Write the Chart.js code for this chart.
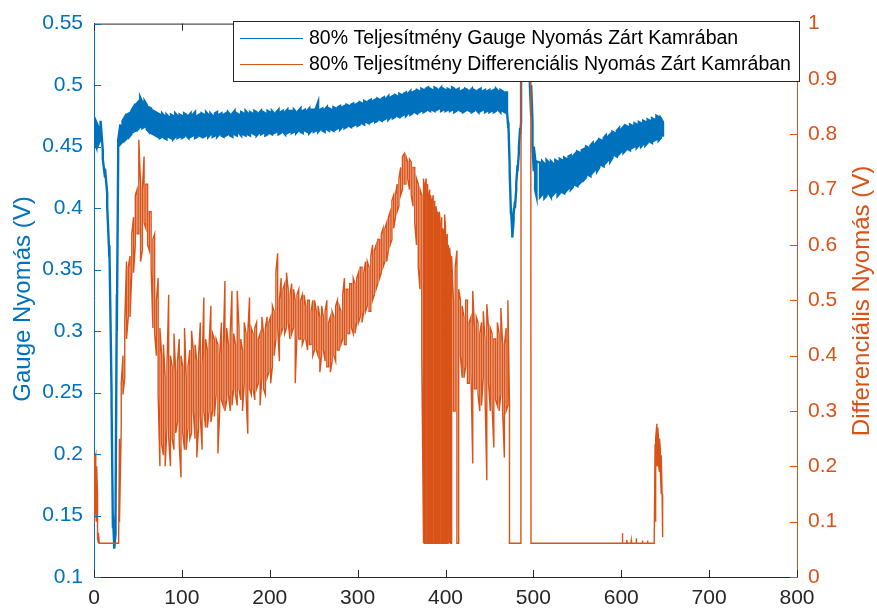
<!DOCTYPE html>
<html>
<head>
<meta charset="utf-8">
<script src="https://cdn.jsdelivr.net/npm/chart.js@4.4.1/dist/chart.umd.min.js"></script>
<style>
  html, body { margin: 0; padding: 0; background: #fff; }
  canvas { display: block; }
</style>
</head>
<body>
<canvas id="pressureChart" width="877" height="610"></canvas>
<script>
// Gauge pressure (left axis): time bins in s, band top / bottom
const gaugeTime = [
  0, 2.5, 5, 7.5, 10, 12.5, 15, 17.5, 20, 21.5,
  23, 24.5, 26, 27.5, 30, 32.5, 35, 37.5, 40, 42.5, 45, 47.5,
  50, 52.5, 55, 57.5, 60, 62.5, 65, 67.5, 70, 72.5,
  75, 77.5, 80, 82.5, 85, 87.5, 90, 92.5, 95, 97.5,
  100, 102.5, 105, 107.5, 110, 112.5, 115, 117.5, 120, 122.5,
  125, 127.5, 130, 132.5, 135, 137.5, 140, 142.5, 145, 147.5,
  150, 152.5, 155, 157.5, 160, 162.5, 165, 167.5, 170, 172.5,
  175, 177.5, 180, 182.5, 185, 187.5, 190, 192.5, 195, 197.5,
  200, 202.5, 205, 207.5, 210, 212.5, 215, 217.5, 220, 222.5,
  225, 227.5, 230, 232.5, 235, 237.5, 240, 242.5, 245, 247.5,
  250, 252.5, 255, 257.5, 260, 262.5, 265, 267.5, 270, 272.5,
  275, 277.5, 280, 282.5, 285, 287.5, 290, 292.5, 295, 297.5,
  300, 302.5, 305, 307.5, 310, 312.5, 315, 317.5, 320, 322.5,
  325, 327.5, 330, 332.5, 335, 337.5, 340, 342.5, 345, 347.5,
  350, 352.5, 355, 357.5, 360, 362.5, 365, 367.5, 370, 372.5,
  375, 377.5, 380, 382.5, 385, 387.5, 390, 392.5, 395, 397.5,
  400, 402.5, 405, 407.5, 410, 412.5, 415, 417.5, 420, 422.5,
  425, 427.5, 430, 432.5, 435, 437.5, 440, 442.5, 445, 447.5,
  450, 452.5, 455, 457.5, 460, 462.5, 465, 467.5,
  470, 471.5, 473, 474.5, 476, 477.5, 479, 480.5, 482, 483.5,
  485, 486, 488, 490, 492, 494, 496, 497.5, 499, 500.5, 502, 503.5,
  507.5, 510, 512.5, 515, 517.5, 520, 522.5, 525, 527.5, 530,
  532.5, 535, 537.5, 540, 542.5, 545, 547.5, 550, 552.5, 555,
  557.5, 560, 562.5, 565, 567.5, 570, 572.5, 575, 577.5, 580,
  582.5, 585, 587.5, 590, 592.5, 595, 597.5, 600, 602.5, 605,
  607.5, 610, 612.5, 615, 617.5, 620, 622.5, 625, 627.5, 630,
  632.5, 635, 637.5, 640, 642.5, 645, 647.5
];
const gaugeHigh = [
  .472, .470, .466, .471, .447, .432, .412, .370, .250, .150,
  .126, .150, .330, .455, .468, .471, .474, .476, .477, .479, .482, .484,
  .486, .490, .486, .487, .484, .482, .481, .479, .478, .477,
  .476, .477, .475, .476, .474, .476, .475, .477, .475, .476,
  .475, .477, .476, .475, .477, .476, .478, .475, .476, .477,
  .476, .478, .476, .477, .475, .477, .478, .476, .477, .476,
  .477, .478, .476, .477, .479, .477, .476, .478, .477, .479,
  .477, .478, .477, .479, .478, .477, .479, .478, .477, .479,
  .478, .479, .477, .478, .480, .478, .479, .478, .480, .479,
  .479, .480, .478, .479, .481, .479, .480, .479, .481, .480,
  .480, .481, .486, .480, .481, .480, .482, .481, .480, .482,
  .481, .482, .483, .482, .483, .484, .483, .484, .485, .484,
  .485, .486, .485, .487, .486, .487, .488, .487, .488, .489,
  .488, .489, .490, .489, .491, .490, .491, .492, .491, .493,
  .492, .493, .494, .493, .495, .494, .495, .496, .495, .497,
  .496, .497, .498, .497, .496, .498, .497, .496, .498, .497,
  .496, .497, .496, .498, .497, .496, .497, .495, .496, .497,
  .496, .495, .497, .496, .495, .496, .497, .495, .496, .495,
  .496, .495, .496, .497, .495, .496, .495, .494,
  .494, .470, .435, .400, .380, .395, .405, .420, .435, .450,
  .465, .560, .560, .560, .560, .560, .560, .500, .470, .450, .440, .438,
  .437, .438, .436, .439, .437, .438, .436, .439, .438, .440,
  .439, .441, .440, .442, .443, .442, .444, .446, .445, .447,
  .448, .450, .449, .451, .453, .452, .454, .456, .455, .457,
  .459, .458, .460, .462, .461, .463, .465, .464, .466, .467,
  .466, .468, .467, .469, .468, .470, .469, .471, .470, .472,
  .471, .473, .472, .475, .474, .473, .470
];
const gaugeLow = [
  .455, .450, .452, .456, .440, .425, .402, .360, .240, .140,
  .123, .135, .300, .440, .452, .454, .455, .457, .458, .460, .462, .463,
  .464, .466, .465, .466, .464, .462, .461, .460, .459, .458,
  .457, .458, .457, .456, .458, .457, .456, .458, .457, .458,
  .457, .458, .459, .457, .458, .459, .457, .458, .459, .458,
  .458, .459, .458, .460, .458, .459, .458, .460, .459, .458,
  .459, .460, .459, .458, .460, .459, .461, .459, .460, .459,
  .460, .459, .461, .460, .459, .461, .460, .461, .459, .460,
  .461, .460, .461, .462, .460, .461, .462, .460, .461, .462,
  .461, .462, .461, .463, .462, .461, .463, .462, .461, .463,
  .462, .463, .462, .464, .463, .462, .464, .463, .464, .463,
  .464, .465, .464, .466, .465, .466, .467, .466, .467, .468,
  .467, .468, .469, .468, .470, .469, .470, .471, .470, .471,
  .472, .471, .472, .473, .472, .474, .473, .474, .475, .474,
  .475, .476, .475, .477, .476, .477, .478, .477, .478, .479,
  .478, .479, .480, .479, .480, .479, .480, .481, .479, .480,
  .479, .480, .479, .480, .478, .479, .480, .479, .478, .479,
  .480, .479, .478, .479, .480, .478, .479, .480, .478, .479,
  .478, .479, .478, .479, .480, .478, .479, .478,
  .478, .465, .430, .395, .376, .390, .400, .415, .430, .445,
  .460, .470, .560, .560, .560, .560, .500, .475, .450, .430, .415, .410,
  .409, .411, .408, .410, .412, .409, .411, .413, .410, .412,
  .413, .412, .414, .416, .415, .417, .419, .418, .420, .422,
  .423, .425, .427, .426, .429, .431, .430, .433, .435, .434,
  .437, .439, .438, .441, .443, .442, .444, .446, .445, .447,
  .448, .447, .449, .450, .449, .451, .450, .452, .451, .453,
  .454, .453, .455, .456, .455, .457, .458
];

// Differential pressure (right axis): time bins in s, band top / bottom
const diffTime = [
  0, 1, 2, 3, 4, 5, 6, 28,
  29, 31, 33, 35, 37, 39, 41, 43, 45, 47,
  49, 51, 53, 55, 57, 59, 61, 63, 65, 67,
  69, 71, 73, 75,
  77, 79, 81, 83, 85, 87, 89, 91, 93, 95,
  97, 99, 101, 103, 105, 107, 109, 111, 113, 115,
  117, 119, 121, 123, 125, 127, 129, 131, 133, 135,
  137, 139, 141, 143, 145, 147, 149, 151, 153, 155,
  157, 159, 161, 163, 165, 167, 169, 171, 173, 175,
  177, 179, 181, 183, 185, 187, 189, 191, 193, 195,
  197, 199, 201, 203, 205, 207, 209, 211, 213, 215,
  217, 219, 221, 223, 225, 227, 229, 231, 233, 235,
  237, 239, 241, 243, 245, 247, 249, 251, 253, 255,
  257, 259, 261, 263, 265, 267, 269, 271, 273, 275,
  277, 279, 281, 283, 285, 287, 289, 291, 293, 295,
  297, 299, 301, 303, 305, 307, 309, 311, 313, 315,
  317, 319, 321, 323, 325, 327, 329, 331, 333, 335,
  337, 339, 341, 343, 345, 347, 349, 351, 353, 355,
  357, 359, 361, 363, 365, 367, 369, 371, 373,
  375, 376, 377, 378, 379, 380, 381, 382, 383, 384,
  385, 386, 387, 388, 389, 390, 391, 392, 393, 394,
  395, 396, 397, 398, 399, 400, 401, 402, 403, 404,
  405, 406, 407,
  409, 411, 413, 415, 417, 419, 421, 423, 425, 427,
  429, 431, 433, 435, 437, 439, 441, 443, 445, 447,
  449, 451, 453, 455, 457, 459, 461, 463, 465, 467,
  469, 471,
  472.8, 485.8, 486, 497, 497.3, 601, 601.4, 601.8, 606, 606.4,
  606.8, 611, 611.4, 611.8, 616.6, 617, 617.4, 624, 624.4, 624.8,
  629.6, 630, 630.4, 637.5, 638.5, 639.5, 640.5, 641.5, 642.5, 643.5,
  644.5, 645.5, 646.5, 647.4
];
const diffHigh = [
  .22, .21, .22, .20, .15, .08, .062, .061,
  .25, .35, .40, .46, .57, .56, .58, .62, .65, .69,
  .70, .79, .71, .70, .76, .71, .71, .66, .66, .61,
  .62, .50, .54, .45,
  .40, .42, .36, .38, .51, .40, .38, .44, .37, .39,
  .43, .40, .38, .45, .36, .38, .41, .445, .41, .42,
  .39, .40, .46, .38, .505, .43, .41, .42, .49, .44,
  .43, .43, .42, .40, .46, .41, .535, .45, .42, .44,
  .517, .44, .42, .517, .45, .43, .41, .46, .44, .44,
  .505, .45, .44, .45, .46, .43, .44, .47, .44, .45,
  .47, .46, .47, .49, .48, .55, .585, .50, .54, .52,
  .53, .55, .52, .51, .53, .52, .50, .51, .52, .50,
  .51, .51, .49, .50, .50, .48, .50, .50, .48, .49,
  .47, .49, .47, .48, .50, .46, .47, .48, .47, .49,
  .50, .49, .48, .51, .54, .52, .52, .53, .53, .54,
  .53, .54, .55, .56, .56, .55, .57, .57, .56, .58,
  .60, .59, .60, .61, .61, .62, .63, .63, .64, .65,
  .66, .68, .69, .69, .71, .72, .74, .76, .765, .76,
  .75, .755, .75, .74, .74, .72, .71, .70, .69,
  .72, .70, .71, .72, .70, .71, .69, .70, .69, .68,
  .68, .69, .67, .68, .67, .66, .66, .65, .66, .64,
  .64, .65, .63, .62, .655, .63, .61, .62, .60, .59,
  .595, .57, .58,
  .50, .56, .59, .52, .50, .49, .47, .50, .50, .46,
  .47, .517, .45, .47, .46, .44, .46, .48, .43, .493,
  .45, .45, .44, .43, .43, .46, .44, .486, .42, .42,
  .45, .50,
  .313, .061, 1.05, 1.05, .061, .061, .079, .061, .061, .067,
  .061, .061, .066, .061, .061, .070, .061, .061, .066, .061,
  .061, .066, .061, .061, .24, .25, .277, .27, .25, .25,
  .23, .22, .15, .072
];
const diffLow = [
  .11, .10, .12, .10, .07, .061, .061, .061,
  .10, .27, .33, .36, .43, .47, .47, .55, .55, .60,
  .62, .62, .57, .59, .64, .63, .60, .59, .56, .45,
  .44, .40, .33, .20,
  .24, .22, .20, .27, .25, .20, .25, .23, .26, .28,
  .24, .18, .26, .23, .23, .27, .25, .26, .30, .25,
  .216, .27, .29, .23, .30, .27, .27, .30, .28, .30,
  .29, .33, .223, .30, .32, .31, .30, .32, .33, .30,
  .31, .34, .33, .31, .34, .32, .30, .35, .33, .259,
  .34, .33, .34, .32, .34, .35, .31, .36, .34, .33,
  .36, .37, .35, .38, .40, .43, .45, .39, .44, .45,
  .44, .45, .46, .43, .44, .45, .35, .44, .43, .43,
  .42, .43, .43, .41, .42, .42, .40, .41, .41, .40,
  .37, .40, .41, .39, .38, .38, .37, .39, .40, .39,
  .41, .41, .42, .43, .42, .42, .44, .44, .45, .44,
  .44, .46, .46, .47, .46, .48, .48, .49, .48, .48,
  .50, .51, .52, .53, .54, .55, .56, .57, .57, .59,
  .60, .61, .63, .65, .66, .67, .69, .70, .71, .71,
  .72, .70, .69, .67, .64, .60, .56, .52, .40,
  .061, .061, .061, .061, .061, .061, .061, .061, .061, .061,
  .061, .061, .061, .061, .061, .061, .061, .061, .061, .061,
  .061, .061, .061, .061, .061, .061, .061, .061, .061, .061,
  .061, .061, .061,
  .30, .30, .061, .061, .40, .36, .36, .38, .35, .35,
  .37, .205, .34, .34, .33, .30, .31, .36, .33, .175,
  .35, .30, .31, .234, .32, .31, .30, .33, .30, .216,
  .30, .31,
  .061, .061, 1.05, 1.05, .061, .061, .061, .061, .061, .061,
  .061, .061, .061, .061, .061, .061, .061, .061, .061, .061,
  .061, .061, .061, .061, .10, .18, .20, .21, .20, .19,
  .19, .15, .09, .072
];

// Axis ticks
const timeTicks = [0, 100, 200, 300, 400, 500, 600, 700, 800];
const gaugeTicks = [0.1, 0.15, 0.2, 0.25, 0.3, 0.35, 0.4, 0.45, 0.5, 0.55];
const gaugeTickLabels = ['0.1', '0.15', '0.2', '0.25', '0.3', '0.35', '0.4', '0.45', '0.5', '0.55'];
const diffTicks = [0, 0.1, 0.2, 0.3, 0.4, 0.5, 0.6, 0.7, 0.8, 0.9, 1];
const diffTickLabels = ['0', '0.1', '0.2', '0.3', '0.4', '0.5', '0.6', '0.7', '0.8', '0.9', '1'];

const seriesLabels = [
  '80% Teljesítmény Gauge Nyomás Zárt Kamrában',
  '80% Teljesítmény Differenciális Nyomás Zárt Kamrában'
];

const BLUE = '#0072BD';
const ORANGE = '#D95319';
const DARK = '#262626';
const FONT = '"Liberation Sans", Arial, sans-serif';

// each bin becomes a vertical stroke top->bottom, alternating direction
function binPoints(times, high, low) {
  const pts = [];
  times.forEach((t, i) => {
    if (i % 2 === 0) {
      pts.push({ x: t, y: high[i] }, { x: t, y: low[i] });
    } else {
      pts.push({ x: t, y: low[i] }, { x: t, y: high[i] });
    }
  });
  return pts;
}

// inward ticks, top box line, legend box and y titles (matlab look)
const matlabAxes = {
  id: 'matlabAxes',
  afterDraw(chart) {
    const ctx = chart.ctx;
    const a = chart.chartArea;
    const sx = chart.scales.x, sy = chart.scales.y, sy2 = chart.scales.y2;
    const t = 7;
    ctx.save();
    ctx.lineWidth = 1;

    ctx.strokeStyle = DARK;
    ctx.beginPath();
    ctx.moveTo(a.left, a.top + 0.5);
    ctx.lineTo(a.right, a.top + 0.5);
    timeTicks.forEach(v => {
      const px = Math.round(sx.getPixelForValue(v)) + 0.5;
      ctx.moveTo(px, a.bottom);
      ctx.lineTo(px, a.bottom - t);
      ctx.moveTo(px, a.top);
      ctx.lineTo(px, a.top + t);
    });
    ctx.stroke();

    ctx.strokeStyle = BLUE;
    ctx.beginPath();
    gaugeTicks.forEach(v => {
      const py = Math.round(sy.getPixelForValue(v)) + 0.5;
      ctx.moveTo(a.left, py);
      ctx.lineTo(a.left + t, py);
    });
    ctx.stroke();

    ctx.strokeStyle = ORANGE;
    ctx.beginPath();
    diffTicks.forEach(v => {
      const py = Math.round(sy2.getPixelForValue(v)) + 0.5;
      ctx.moveTo(a.right, py);
      ctx.lineTo(a.right - t, py);
    });
    ctx.stroke();

    // Legend
    const bx = 233.5, by = 21.5, bw = 566, bh = 60;
    ctx.fillStyle = '#fff';
    ctx.fillRect(bx, by, bw, bh);
    ctx.strokeStyle = DARK;
    ctx.strokeRect(bx, by, bw, bh);
    ctx.font = '19.5px ' + FONT;
    ctx.textBaseline = 'middle';
    ctx.textAlign = 'left';
    [BLUE, ORANGE].forEach((c, i) => {
      const ly = 38 + i * 26;
      ctx.strokeStyle = c;
      ctx.beginPath();
      ctx.moveTo(240, ly + 0.5);
      ctx.lineTo(303, ly + 0.5);
      ctx.stroke();
      ctx.fillStyle = '#000';
      ctx.fillText(seriesLabels[i], 309, ly + 1);
    });

    // Axis titles
    ctx.font = '24px ' + FONT;
    ctx.textAlign = 'center';
    ctx.textBaseline = 'alphabetic';
    ctx.fillStyle = BLUE;
    ctx.translate(30, 299);
    ctx.rotate(-Math.PI / 2);
    ctx.fillText('Gauge Nyomás (V)', 0, 0);
    ctx.setTransform(1, 0, 0, 1, 0, 0);
    ctx.fillStyle = ORANGE;
    ctx.translate(869, 301);
    ctx.rotate(-Math.PI / 2);
    ctx.fillText('Differenciális Nyomás (V)', 0, 0);
    ctx.restore();
  }
};

window.onload = function() {
  const ctx = document.getElementById('pressureChart').getContext('2d');
  new Chart(ctx, {
    type: 'line',
    data: {
      datasets: [{
        label: seriesLabels[0],
        data: binPoints(gaugeTime, gaugeHigh, gaugeLow),
        yAxisID: 'y',
        borderColor: BLUE,
        borderWidth: 2.4,
        pointRadius: 0,
        tension: 0,
        order: 2
      }, {
        label: seriesLabels[1],
        data: binPoints(diffTime, diffHigh, diffLow),
        yAxisID: 'y2',
        borderColor: ORANGE,
        borderWidth: 1.4,
        pointRadius: 0,
        tension: 0,
        order: 1
      }]
    },
    options: {
      responsive: false,
      animation: false,
      layout: { padding: { top: 21, left: 0, right: 0, bottom: 0 } },
      plugins: { legend: { display: false }, tooltip: { enabled: false } },
      scales: {
        x: {
          type: 'linear',
          min: 0,
          max: 800,
          afterBuildTicks: s => { s.ticks = timeTicks.map(v => ({ value: v })); },
          afterFit: s => { s.height = 33; },
          grid: { display: false, drawTicks: false },
          border: { color: DARK, width: 1 },
          ticks: { color: DARK, padding: 9, maxRotation: 0, font: { family: FONT, size: 21 } }
        },
        y: {
          position: 'left',
          min: 0.1,
          max: 0.55,
          afterBuildTicks: s => { s.ticks = gaugeTicks.map(v => ({ value: v })); },
          afterFit: s => { s.width = 94; },
          grid: { display: false, drawTicks: false },
          border: { color: BLUE, width: 1 },
          ticks: {
            color: BLUE, padding: 11, font: { family: FONT, size: 21 },
            callback: (v, i) => gaugeTickLabels[i]
          }
        },
        y2: {
          position: 'right',
          min: 0,
          max: 1,
          afterBuildTicks: s => { s.ticks = diffTicks.map(v => ({ value: v })); },
          afterFit: s => { s.width = 80; },
          grid: { display: false, drawTicks: false },
          border: { color: ORANGE, width: 1 },
          ticks: {
            color: ORANGE, padding: 11, font: { family: FONT, size: 21 },
            callback: (v, i) => diffTickLabels[i]
          }
        }
      }
    },
    plugins: [matlabAxes]
  });
};
</script>
</body>
</html>
